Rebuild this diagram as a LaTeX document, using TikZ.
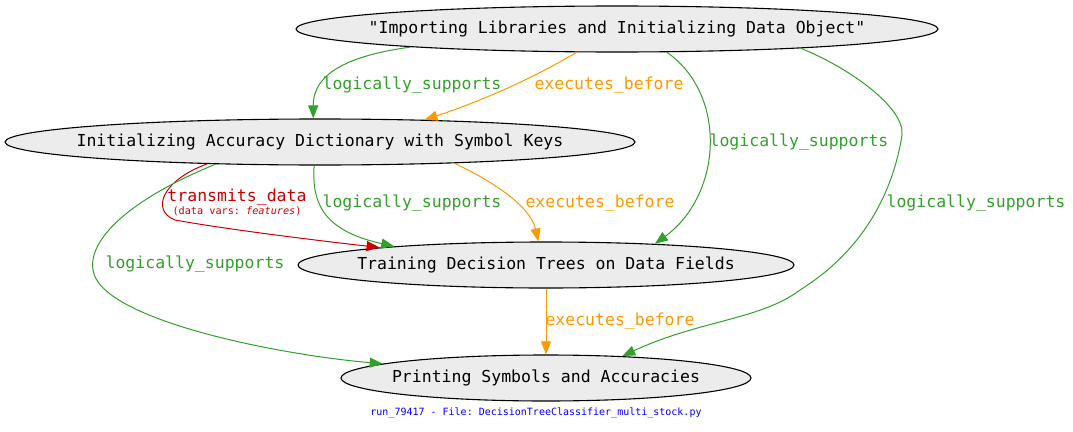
\documentclass[tikz,border=0pt]{standalone}
\usepackage{fontspec}
\setmonofont{DejaVu Sans Mono}
\usetikzlibrary{shapes.geometric,arrows.meta}
\definecolor{eg}{HTML}{33A02C}
\definecolor{eo}{HTML}{FF9900}
\definecolor{er}{HTML}{CC0000}
\definecolor{nodefill}{HTML}{ECECEC}
\begin{document}
\begin{tikzpicture}[x=1pt,y=-1pt,
  box/.style={ellipse, draw, fill=nodefill, line width=1.1pt, inner sep=0pt, minimum height=46pt, font=\ttfamily\fontsize{16.5}{20}\selectfont},
  lbl/.style={font=\ttfamily\fontsize{16.5}{20}\selectfont, inner sep=0pt},
  sublbl/.style={font=\ttfamily\fontsize{10.2}{12}\selectfont, inner sep=0pt},
  conn/.style={line width=1pt, -{Triangle[length=13pt,width=10pt]}}]
\useasboundingbox (0,0) rectangle (1073,431);
\node[box, minimum width=642pt] (A) at (617,29) {\makebox[0pt]{"Importing Libraries and Initializing Data Object"}};
\node[box, minimum width=630pt] (B) at (320,142) {\makebox[0pt]{Initializing Accuracy Dictionary with Symbol Keys}};
\node[box, minimum width=496pt] (C) at (546,265) {\makebox[0pt]{Training Decision Trees on Data Fields}};
\node[box, minimum width=410pt] (D) at (546,378) {\makebox[0pt]{Printing Symbols and Accuracies}};
% A -> B
\draw[conn, eg] (A.-175.7) .. controls (345,56) and (313,75) .. (B.106.3);
\node[lbl, text=eg] (l1) at (412,85) {logically\_supports};
\draw[conn, eo] (A.-150.9) .. controls (525,83) and (470,105) .. (B.12.15);
\node[lbl, text=eo] (l2) at (609,85) {executes\_before};
% A -> C
\draw[conn, eg] (A.-25.8) .. controls (728,95) and (722,195) .. (C.11.8);
\node[lbl, text=eg] (l3) at (799,142) {logically\_supports};
% A -> D
\draw[conn, eg] (A.-6.4) .. controls (850,68) and (905,108) .. (902,135)
  .. controls (895,180) and (872,245) .. (800,290)
  .. controls (760,320) and (700,320) .. (D.16.35);
\node[lbl, text=eg] (l4) at (976,203) {logically\_supports};
% B -> C
\draw[conn, eo] (B.-9.1) .. controls (490,180) and (530,205) .. (C.108.4);
\node[lbl, text=eo] (l5) at (600,203) {executes\_before};
\draw[conn, eg] (B.-104) .. controls (312,200) and (320,230) .. (C.173);
\node[lbl, text=eg] (l6) at (412,203) {logically\_supports};
\draw[conn, er] (B.-169) .. controls (163,180) and (150,210) .. (175,220)
  .. controls (230,230) and (330,242) .. (C.174.2);
\node[lbl, text=er] (l7) at (237,197) {transmits\_data};
\node[sublbl, text=er] (l7b) at (237,211) {(data vars: \textit{features})};
% B -> D
\draw[conn, eg] (B.-168) .. controls (128,200) and (88,240) .. (93,270)
  .. controls (100,320) and (280,355) .. (D.175.6);
\node[lbl, text=eg] (l8) at (195,264) {logically\_supports};
% C -> D
\draw[conn, eo] (C.south) -- (D.north);
\node[lbl, text=eo] (l9) at (620,321) {executes\_before};
% footer
\node[sublbl, text=blue, font=\ttfamily\fontsize{10}{12}\selectfont] (f) at (536,413) {run\_79417 - File: DecisionTreeClassifier\_multi\_stock.py};
\end{tikzpicture}
\end{document}
